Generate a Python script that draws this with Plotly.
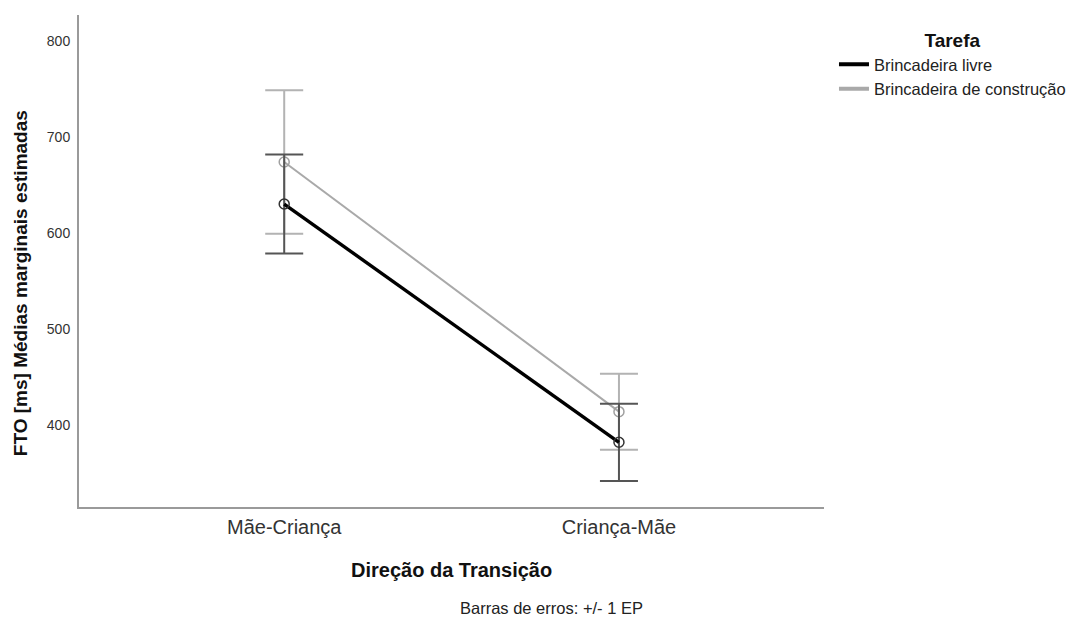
import plotly.graph_objects as go

# Estimated marginal means of FTO (ms) by transition direction and task
directions = ["Mãe-Criança", "Criança-Mãe"]
tasks = ["Brincadeira livre", "Brincadeira de construção"]

livre_mean = [630.5, 382.3]
livre_se = [51.5, 40.2]

construcao_mean = [674.3, 414.2]
construcao_se = [74.7, 39.6]

y_ticks = [400, 500, 600, 700, 800]

FONT = "Liberation Sans, Arial, sans-serif"
x_pos = list(range(len(directions)))

fig = go.Figure()

series = [
    (tasks[1], construcao_mean, construcao_se, "#a9a9a9", 2, "#b3b3b3", "#a0a0a0"),
    (tasks[0], livre_mean, livre_se, "#000000", 3.4, "#555555", "#333333"),
]

for name, means, ses, line_color, line_w, err_color, marker_color in series:
    fig.add_trace(go.Scatter(
        x=x_pos, y=means, name=name, mode="lines+markers", showlegend=False,
        line=dict(color=line_color, width=line_w),
        marker=dict(symbol="circle-open", size=10, color=marker_color,
                    line=dict(width=1.5, color=marker_color)),
        error_y=dict(type="data", array=ses, visible=True,
                     color=err_color, thickness=2, width=19),
        cliponaxis=False,
    ))

# Legend entries show the line only
for name, color in [(tasks[0], "#000000"), (tasks[1], "#a9a9a9")]:
    fig.add_trace(go.Scatter(
        x=[None], y=[None], name=name, mode="lines",
        line=dict(color=color, width=4),
    ))

fig.update_layout(
    width=1079, height=619,
    margin=dict(l=79, r=255, t=15, b=112, autoexpand=False),
    paper_bgcolor="white", plot_bgcolor="white",
    font=dict(family=FONT, color="#222222"),
    showlegend=True,
    legend=dict(
        x=1.0134, y=0.985, xanchor="left", yanchor="top",
        title=dict(text="<b>Tarefa</b>", side="top center",
                   font=dict(size=19, color="#111111")),
        font=dict(size=16.5, color="#222222"),
        itemwidth=30, tracegroupgap=0, bgcolor="rgba(0,0,0,0)",
    ),
    xaxis=dict(
        range=[-0.613, 1.6125], tickvals=x_pos, ticktext=directions,
        showgrid=False, zeroline=False, automargin=False,
        showline=True, linecolor="#9a9a9a", linewidth=2,
        ticks="outside", ticklen=1, tickcolor="rgba(0,0,0,0)",
        tickfont=dict(size=20, color="#333333"),
    ),
    yaxis=dict(
        range=[314.9, 827.4], tickvals=y_ticks,
        showgrid=False, zeroline=False, automargin=False,
        showline=True, linecolor="#9a9a9a", linewidth=2,
        ticks="outside", ticklen=4, tickcolor="rgba(0,0,0,0)",
        tickfont=dict(size=14, color="#333333"),
    ),
    annotations=[
        dict(text="<b>Direção da Transição</b>", xref="paper", yref="paper",
             x=0.5, y=-0.128, xanchor="center", yanchor="middle",
             showarrow=False, font=dict(size=20, color="#111111")),
        dict(text="Barras de erros: +/- 1 EP", xref="paper", yref="paper",
             x=0.634, y=-0.205, xanchor="center", yanchor="middle",
             showarrow=False, font=dict(size=16.5, color="#222222")),
        dict(text="<b>FTO [ms] Médias marginais estimadas</b>", xref="paper", yref="paper",
             x=-0.0792, y=0.455, xanchor="center", yanchor="middle", textangle=-90,
             showarrow=False, font=dict(size=19, color="#111111")),
    ],
)

fig.write_html("out.html")
